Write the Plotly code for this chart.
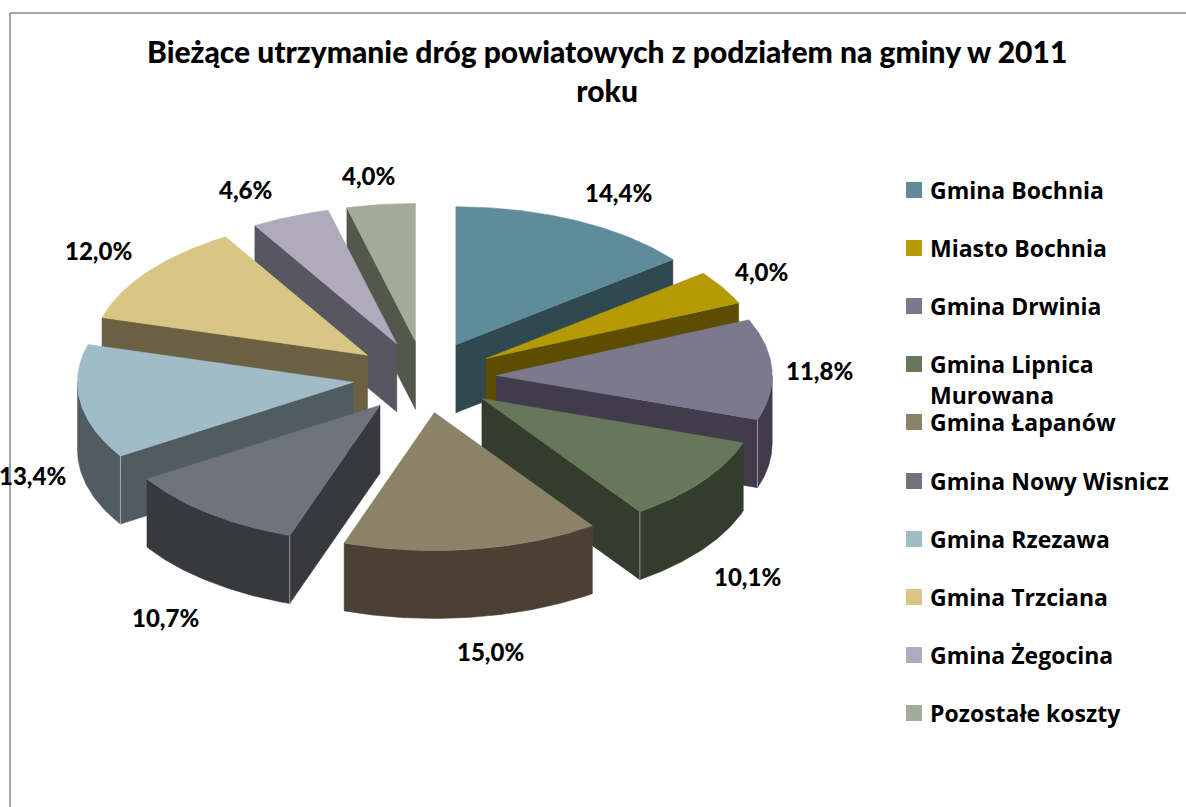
import math
import plotly.graph_objects as go

categories = ["Gmina Bochnia", "Miasto Bochnia", "Gmina Drwinia", "Gmina Lipnica<br>Murowana",
              "Gmina Łapanów", "Gmina Nowy Wisnicz", "Gmina Rzezawa", "Gmina Trzciana",
              "Gmina Żegocina", "Pozostałe koszty"]
values = [14.4, 4.0, 11.8, 10.1, 15.0, 10.7, 13.4, 12.0, 4.6, 4.0]
top_colors = ["#5F8C9B", "#B59A05", "#7C788E", "#67775A", "#8B8367",
              "#6E737C", "#A0BCC7", "#D9C684", "#AFABBC", "#A3AC98"]
side_colors = ["#304850", "#5C4D02", "#403C4C", "#343C2C", "#4A4034",
               "#38393E", "#505C62", "#6C6042", "#585660", "#54584C"]
title_text = "Bieżące utrzymanie dróg powiatowych z podziałem na gminy w 2011<br>roku"

# pie projection (pixels of the plot area)
CX, CY, RX, RY, DEPTH, EXPLODE = 424.5, 377, 276, 138, 68, 0.26
label_centers = [(618, 192), (761, 271), (819, 370), (747, 576), (490, 651),
                 (165, 617), (32, 475), (98, 250), (245, 189), (368, 175)]
legend_rows = [190, 248, 306, 364, 422, 481, 539, 597, 655, 713]


def arc(ax, ay, t0, t1, drop=0):
    n = max(2, int(abs(t1 - t0) * 1.5))
    xs, ys = [], []
    for i in range(n + 1):
        t = math.radians(t0 + (t1 - t0) * i / n)
        xs.append(ax + RX * math.sin(t))
        ys.append(ay - RY * math.cos(t) + drop)
    return xs, ys


def poly(xs, ys, color):
    return go.Scatter(x=xs + xs[:1], y=ys + ys[:1], mode="lines", fill="toself",
                      fillcolor=color, line=dict(color=color, width=0.5),
                      hoverinfo="skip", showlegend=False)


total = sum(values)
slices = []
start = 0.0
for i, v in enumerate(values):
    end = start + v / total * 360
    slices.append((i, start, end, (start + end) / 2))
    start = end

fig = go.Figure()
for i, t0, t1, mid in sorted(slices, key=lambda s: -math.cos(math.radians(s[3]))):
    m = math.radians(mid)
    ax = CX + EXPLODE * RX * math.sin(m)
    ay = CY - EXPLODE * RY * math.cos(m)
    side = side_colors[i]
    # visible cut faces
    for t, visible in ((t0, 180 <= t0 < 360), (t1, 0 < t1 <= 180)):
        if visible:
            ex, ey = arc(ax, ay, t, t)
            fig.add_trace(poly([ax, ex[0], ex[0], ax], [ay, ey[0], ey[0] + DEPTH, ay + DEPTH], side))
    # visible rim
    r0, r1 = max(t0, 90), min(t1, 270)
    if r1 > r0:
        xa, ya = arc(ax, ay, r0, r1)
        xb, yb = arc(ax, ay, r0, r1, DEPTH)
        fig.add_trace(poly(xa + xb[::-1], ya + yb[::-1], side))
        # pale seam where the rim meets a cut face
        for t, has_seam in ((t0, 180 <= t0 < 270), (t1, 90 < t1 <= 180)):
            if has_seam:
                ex, ey = arc(ax, ay, t, t)
                fig.add_trace(go.Scatter(x=[ex[0], ex[0]], y=[ey[0], ey[0] + DEPTH], mode="lines",
                                         line=dict(color="rgba(255,255,255,0.45)", width=1),
                                         hoverinfo="skip", showlegend=False))
    # top surface
    xa, ya = arc(ax, ay, t0, t1)
    fig.add_trace(poly([ax] + xa, [ay] + ya, top_colors[i]))

# legend swatches
fig.add_trace(go.Scatter(x=[914] * len(values), y=legend_rows, mode="markers",
                         marker=dict(symbol="square", size=16, color=top_colors, line=dict(width=0)),
                         hoverinfo="skip", showlegend=False))

ann = []
for v, (x, y) in zip(values, label_centers):
    ann.append(dict(x=x, y=y, text=f"{v:.1f}%".replace(".", ","), showarrow=False,
                    xanchor="center", yanchor="middle",
                    font=dict(family="Lato", size=24, color="#000000", weight=900)))
for name, y in zip(categories, legend_rows):
    for k, line in enumerate(name.split("<br>")):
        ann.append(dict(x=928, y=y + 31 * k, text=line, showarrow=False, xanchor="left", yanchor="middle",
                        font=dict(family="Open Sans", size=23, color="#000000", weight="bold")))
ann.append(dict(x=607, y=70, text=title_text, showarrow=False, xanchor="center", yanchor="middle",
                align="center", font=dict(family="Lato", size=30, color="#000000", weight=900)))

fig.update_layout(
    width=1186, height=807, autosize=False,
    margin=dict(l=0, r=0, t=0, b=0, pad=0),
    paper_bgcolor="#FFFFFF", plot_bgcolor="#FFFFFF",
    showlegend=False,
    xaxis=dict(range=[0, 1186], visible=False, fixedrange=True),
    yaxis=dict(range=[807, 0], visible=False, fixedrange=True),
    annotations=ann,
    shapes=[dict(type="line", xref="x", yref="y", x0=10, y0=13, x1=1186, y1=13, line=dict(color="#868686", width=1.5), layer="below"),
            dict(type="line", xref="x", yref="y", x0=10, y0=13, x1=10, y1=807, line=dict(color="#868686", width=1.5), layer="below")],
)
fig.write_html("out.html", post_script="document.body.style.margin='0';", config=dict(displayModeBar=False))
